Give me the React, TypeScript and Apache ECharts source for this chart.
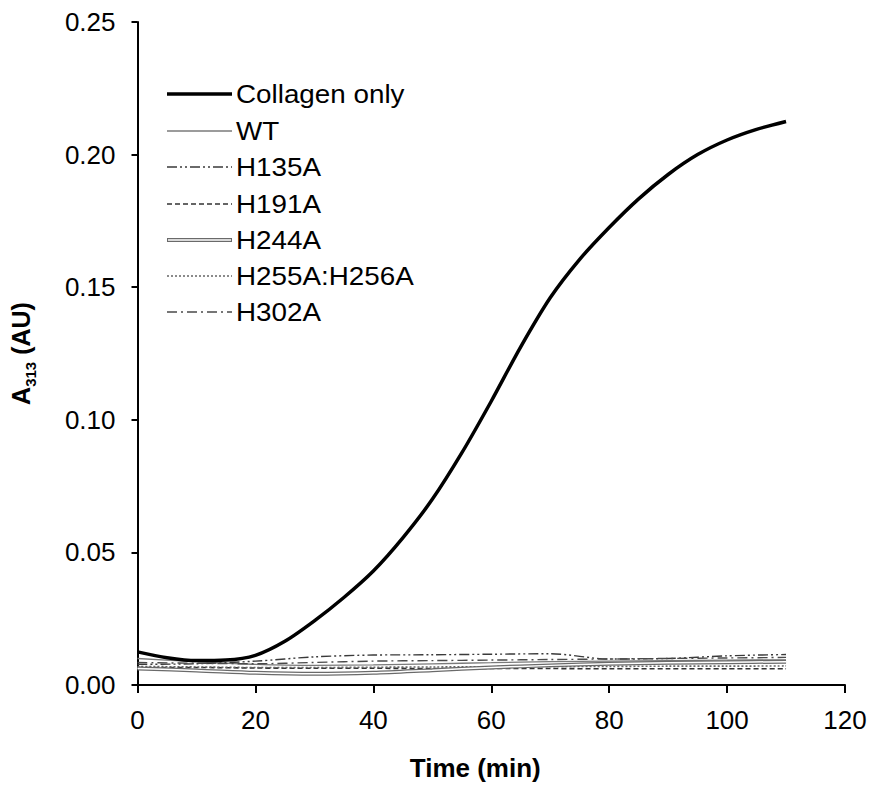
import React, { useEffect, useRef } from "react";
import * as echarts from "echarts";

const collagenTimes = [0, 5, 10, 15, 20, 25, 30, 35, 40, 45, 50, 55, 60, 65, 70, 75, 80, 85, 90, 95, 100, 105, 110];
const collagenOnly = [0.0125, 0.0103, 0.0092, 0.0094, 0.0112, 0.0165, 0.0242, 0.033, 0.043, 0.0555, 0.07, 0.0875, 0.107, 0.1275, 0.146, 0.1605, 0.1725, 0.1833, 0.1925, 0.2, 0.2055, 0.2095, 0.2125];

const lowTimes = [0, 10, 20, 30, 40, 50, 60, 70, 80, 90, 100, 110];
const wt = [0.01, 0.0088, 0.0078, 0.0074, 0.0076, 0.008, 0.0084, 0.0088, 0.009, 0.0092, 0.0094, 0.0095];
const h135a = [0.0078, 0.008, 0.009, 0.0106, 0.0113, 0.0114, 0.0116, 0.0118, 0.0098, 0.01, 0.011, 0.0115];
const h191a = [0.0066, 0.0066, 0.0064, 0.0063, 0.0063, 0.0062, 0.0062, 0.0062, 0.0061, 0.0061, 0.0061, 0.0061];
const h244a = [0.0062, 0.0055, 0.0046, 0.0042, 0.0046, 0.0056, 0.0066, 0.0074, 0.008, 0.0084, 0.0086, 0.0088];
const h255a = [0.007, 0.0068, 0.0066, 0.0066, 0.0067, 0.0068, 0.0069, 0.007, 0.007, 0.0071, 0.0071, 0.0072];
const h302a = [0.0085, 0.0082, 0.008, 0.0085, 0.009, 0.0092, 0.0094, 0.0096, 0.0098, 0.01, 0.0102, 0.0104];

const legendNames = ["Collagen only", "WT", "H135A", "H191A", "H244A", "H255A:H256A", "H302A"];

const FONT = "Liberation Sans, Arial, sans-serif";

const styles: any = {
  "Collagen only": { color: "#000", width: 3.5, type: "solid" },
  WT: { color: "#7a7a7a", width: 1.3, type: "solid" },
  H135A: { color: "#3a3a3a", width: 1.4, type: [10, 3, 2, 3, 2, 3] },
  H191A: { color: "#333", width: 1.6, type: [5, 3] },
  H244A: { color: "#6a6a6a", width: 4, type: "solid" },
  "H255A:H256A": { color: "#666", width: 1.6, type: [2, 2] },
  H302A: { color: "#4a4a4a", width: 1.4, type: [10, 4, 2, 4] },
};

function pairs(xs: number[], ys: number[]) {
  return xs.map((x, i) => [x, ys[i]]);
}

export default function App() {
  const ref = useRef<HTMLDivElement>(null);
  useEffect(() => {
    if (!ref.current) return;
    const chart = echarts.init(ref.current, null, { renderer: "svg" });

    const lineSeries = (name: string, data: number[][], extra: any = {}) => ({
      type: "line",
      name,
      data,
      smooth: 0.3,
      symbol: "none",
      lineStyle: { ...styles[name] },
      z: 2,
      ...extra,
    });

    const legendGraphics: any[] = [];
    const rowY = [94, 131, 167, 204, 240, 276, 312];
    legendNames.forEach((n, i) => {
      const y = rowY[i];
      const st = styles[n];
      legendGraphics.push({
        type: "line",
        shape: { x1: 167, y1: y, x2: 232, y2: y },
        style: { stroke: st.color, lineWidth: st.width, lineDash: Array.isArray(st.type) ? st.type : null },
      });
      if (n === "H244A") {
        legendGraphics.push({
          type: "line",
          shape: { x1: 168, y1: y, x2: 231, y2: y },
          style: { stroke: "#fff", lineWidth: 1.5 },
        });
      }
      legendGraphics.push({
        type: "text",
        x: 236,
        y: y,
        scaleX: 1.07,
        style: { text: n, font: `26px ${FONT}`, fill: "#000", verticalAlign: "middle" },
      });
    });

    chart.setOption({
      animation: false,
      backgroundColor: "#fff",
      grid: { left: 137, right: 26, top: 22, bottom: 102, containLabel: false },
      xAxis: {
        type: "value",
        min: 0,
        max: 120,
        interval: 20,
        name: "Time (min)",
        nameLocation: "middle",
        nameGap: 70,
        nameTextStyle: { fontFamily: FONT, fontSize: 26, fontWeight: "bold", color: "#000", padding: [0, 32, 0, 0] },
        axisLine: { lineStyle: { color: "#000", width: 2 } },
        axisTick: { show: true, inside: false, length: 8, lineStyle: { color: "#000", width: 2 } },
        axisLabel: { fontFamily: FONT, fontSize: 26, color: "#000", margin: 22 },
        splitLine: { show: false },
      },
      yAxis: {
        type: "value",
        min: 0,
        max: 0.25,
        interval: 0.05,
        name: "{a|A}{s|313}{a| (AU)}",
        nameLocation: "middle",
        nameGap: 100,
        nameTextStyle: {
          rich: {
            a: { fontFamily: FONT, fontSize: 25, fontWeight: "bold", color: "#000", lineHeight: 34 },
            s: { fontFamily: FONT, fontSize: 15, fontWeight: "bold", color: "#000", verticalAlign: "bottom", lineHeight: 15 },
          },
        },
        axisLine: { show: true, lineStyle: { color: "#000", width: 2 } },
        axisTick: { show: true, inside: false, length: 6, lineStyle: { color: "#000", width: 2 } },
        axisLabel: { fontFamily: FONT, fontSize: 26, color: "#000", margin: 22, formatter: (v: number) => v.toFixed(2) },
        splitLine: { show: false },
      },
      series: [
        lineSeries("WT", pairs(lowTimes, wt)),
        lineSeries("H135A", pairs(lowTimes, h135a)),
        lineSeries("H191A", pairs(lowTimes, h191a)),
        lineSeries("H244A", pairs(lowTimes, h244a)),
        {
          type: "line",
          name: "H244A inner",
          data: pairs(lowTimes, h244a),
          smooth: 0.3,
          symbol: "none",
          lineStyle: { color: "#fff", width: 1.5 },
          z: 3,
        },
        lineSeries("H255A:H256A", pairs(lowTimes, h255a)),
        lineSeries("H302A", pairs(lowTimes, h302a)),
        lineSeries("Collagen only", pairs(collagenTimes, collagenOnly), { z: 5 }),
      ],
      graphic: legendGraphics,
    });
    return () => chart.dispose();
  }, []);
  return <div ref={ref} style={{ position: "fixed", left: 0, top: 0, width: 871, height: 787 }} />;
}
